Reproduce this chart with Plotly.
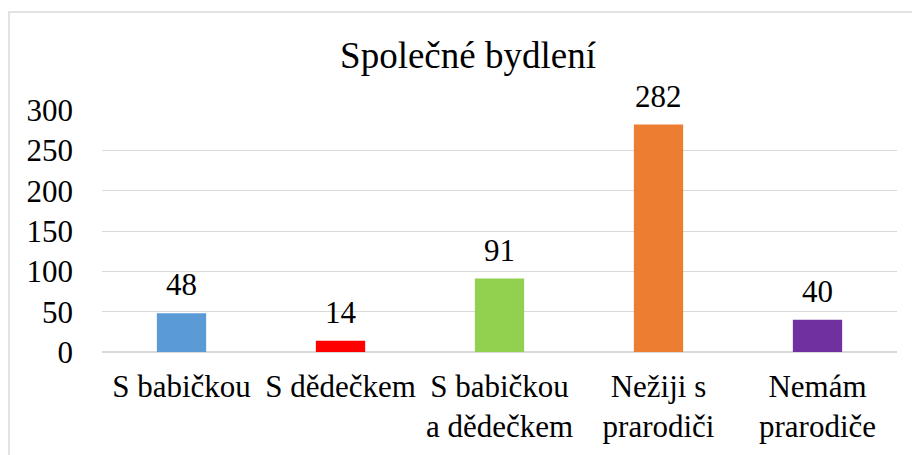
import plotly.graph_objects as go

categories = ["S babičkou", "S dědečkem", "S babičkou<br>a dědečkem", "Nežiji s<br>prarodiči", "Nemám<br>prarodiče"]
values = [48, 14, 91, 282, 40]
colors = ["#5B9BD5", "#FF0000", "#92D050", "#ED7D31", "#7030A0"]
y_ticks = [0, 50, 100, 150, 200, 250, 300]
title_text = "Společné bydlení"

FONT = "Liberation Serif"

fig = go.Figure(go.Bar(
    x=categories, y=values, marker=dict(color=colors, line=dict(width=0)),
    width=0.31, hoverinfo="skip",
))

for c, v in zip(categories, values):
    fig.add_annotation(x=c, y=v, text=str(v), showarrow=False, yanchor="bottom",
                       yshift=9, font=dict(family=FONT, size=31, color="#000000"))

fig.add_shape(type="rect", xref="paper", yref="paper",
              x0=-93/795, x1=1.03, y0=-0.5, y1=(352-12)/242,
              line=dict(color="#D9D9D9", width=1.5), fillcolor="rgba(0,0,0,0)", layer="below")

fig.update_layout(
    width=912, height=455,
    margin=dict(l=102, r=15, t=110, b=103, autoexpand=False),
    paper_bgcolor="white", plot_bgcolor="white",
    title=dict(text=title_text, x=(340+596)/2/912, xanchor="center", y=1-55/455, yanchor="middle",
               font=dict(family=FONT, size=37, color="#000000")),
    font=dict(family=FONT, size=31, color="#000000"),
    showlegend=False,
    xaxis=dict(showgrid=False, showline=False, ticks="", tickfont=dict(family=FONT, size=31),
               ticklabelstandoff=13, fixedrange=True, automargin=False),
    yaxis=dict(range=[0, 300], tickvals=y_ticks, showgrid=True, gridcolor="#D9D9D9", gridwidth=1,
               zeroline=True, zerolinecolor="#D9D9D9", zerolinewidth=1.5, showline=False, ticks="",
               ticklabelstandoff=28, tickfont=dict(family=FONT, size=31), fixedrange=True,
               automargin=False),
)

fig.write_html("out.html", config={"displayModeBar": False},
               post_script="document.body.style.margin='0';")
